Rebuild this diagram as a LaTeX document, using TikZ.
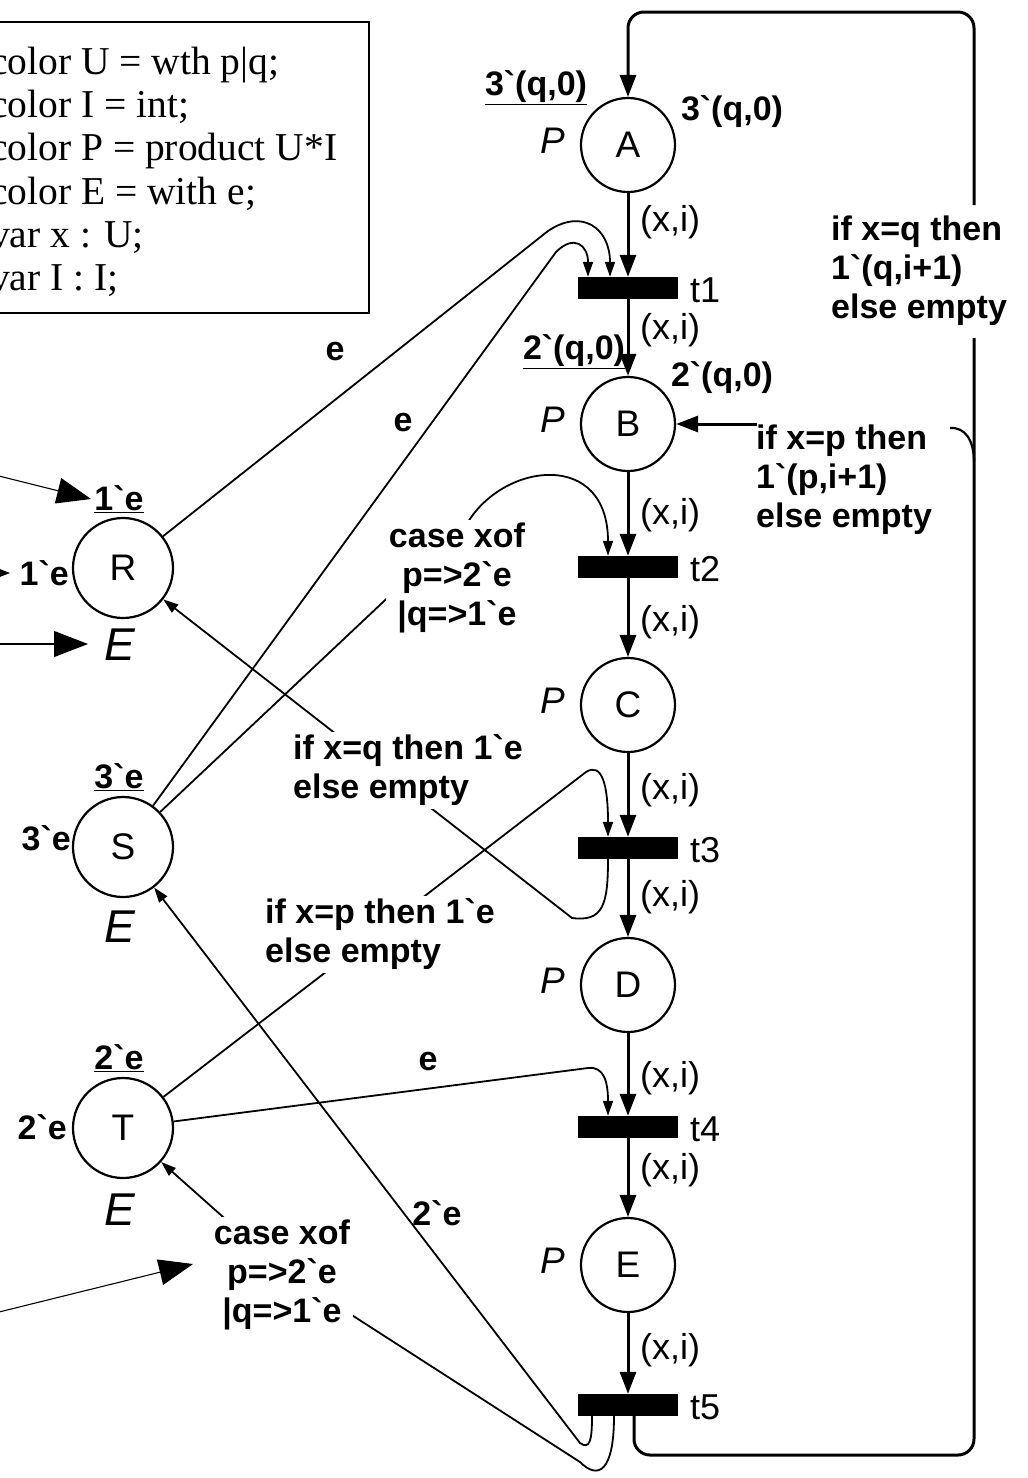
\documentclass[tikz,border=0pt]{standalone}
\usepackage{fontspec}
\newfontfamily\labf{Liberation Sans}
\newfontfamily\tmsf{Liberation Serif}
\usetikzlibrary{arrows.meta,calc}
\begin{document}
\begin{tikzpicture}[x=1pt,y=-1pt,
  place/.style={circle,draw,line width=2.2pt,minimum size=94pt,inner sep=0pt,font=\labf\fontsize{37}{40}\selectfont},
  lplace/.style={place,minimum size=100pt},
  trans/.style={rectangle,fill=black,minimum width=100pt,minimum height=22pt,inner sep=0pt},
  mainarc/.style={line width=3pt,-{Triangle[length=22pt,width=16pt]}},
  sidearc/.style={line width=1.8pt,-{Triangle[length=15pt,width=10pt]}},
  annarc/.style={line width=1.1pt,-{Triangle[length=34pt,width=26pt]}},
  reg/.style={font=\labf\fontsize{36}{40}\selectfont,inner sep=0pt},
  ptype/.style={font=\labf\itshape\fontsize{37}{40}\selectfont,inner sep=0pt},
  etype/.style={font=\labf\itshape\fontsize{46}{50}\selectfont,inner sep=0pt},
  bld/.style={font=\labf\bfseries\fontsize{34}{39}\selectfont,inner sep=1pt},
  blbox/.style={bld,fill=white,inner sep=3pt},
  decl/.style={font=\tmsf\fontsize{39.5}{43}\selectfont,anchor=base west,inner sep=0pt},
]
\useasboundingbox (0,0) rectangle (1028,1478);
\clip (0,0) rectangle (1028,1478);
\fill[white] (0,0) rectangle (1028,1478);

% declarations
\draw[line width=2pt] (-20,22) rectangle (369,313);
\node[decl] (d1) at (-10,74) {color U = wth p|q;};
\node[decl] (d2) at (-10,117) {color I = int;};
\node[decl] (d3) at (-10,160) {color P = product U*I};
\node[decl] (d4) at (-10,204) {color E = with e;};
\node[decl] (d5) at (-10,247) {var x : U;};
\node[decl] (d6) at (-10,290) {var I : I;};

% places and transitions
\node[place] (A) at (628,145) {A};
\node[place] (B) at (628,424) {B};
\node[place] (C) at (628,705) {C};
\node[place] (D) at (628,985) {D};
\node[place] (E) at (628,1265) {E};
\node[trans] (t1) at (628,288) {};
\node[trans] (t2) at (628,567) {};
\node[trans] (t3) at (628,848) {};
\node[trans] (t4) at (628,1127) {};
\node[trans] (t5) at (628,1405) {};
\node[lplace] (R) at (123,568) {R};
\node[lplace] (S) at (123,847) {S};
\node[lplace] (T) at (123,1128) {T};

\coordinate (cT) at (285,1272);
\coordinate (rt1) at (974,205);
\coordinate (rt2) at (974,338);
\coordinate (pB) at (757,424);

% main arcs
\draw[mainarc] (A) -- (t1);
\draw[mainarc] (t1) -- (B);
\draw[mainarc] (B) -- (t2);
\draw[mainarc] (t2) -- (C);
\draw[mainarc] (C) -- (t3);
\draw[mainarc] (t3) -- (D);
\draw[mainarc] (D) -- (t4);
\draw[mainarc] (t4) -- (E);
\draw[mainarc] (E) -- (t5);

% return arcs
\draw[mainarc,rounded corners=16pt] (rt1) -- (974,12) -- (628,12) -- (A);
\draw[line width=3pt,rounded corners=16pt] ([xshift=6pt]t5.south) -- (634,1455) -- (974,1455) -- (rt2);
\draw[line width=2.2pt] (950,428) .. controls (965,427) and (974,440) .. (974,462);
\draw[mainarc] (pB) -- (B);

% side arcs
\draw[sidearc] (R) -- (548,231) .. controls (582,208) and (610,228) .. ([xshift=-18pt]t1.north);
\draw[sidearc] (S) -- (556,252) .. controls (574,234) and (588,245) .. ([xshift=-40pt]t1.north);
\draw[sidearc] (S) -- (468,522) .. controls (505,462) and (608,450) .. ([xshift=-20pt]t2.north);
\draw[sidearc] ([xshift=-20pt]t3.south) .. controls (608,905) and (603,922) .. (572,918) -- (R);
\draw[sidearc] (T) -- (586,772) .. controls (602,762) and (608,785) .. ([xshift=-20pt]t3.north);
\draw[sidearc] (T) -- (588,1068) .. controls (604,1066) and (608,1082) .. ([xshift=-20pt]t4.north);
\draw[sidearc] ([xshift=-36pt]t5.south) .. controls (592,1440) and (590,1450) .. (580,1443) -- (S);
\draw[sidearc] ([xshift=-14pt]t5.south) .. controls (614,1472) and (598,1480) .. (580,1462) -- (cT) -- (T);

% annotation arrows from the left
\coordinate (a1s) at (-5,475); \coordinate (a1e) at (91,499);
\coordinate (a2s) at (-50,573); \coordinate (a2e) at (10,573);
\coordinate (a3s) at (-5,644); \coordinate (a3e) at (88,644);
\coordinate (a4s) at (-5,1313); \coordinate (a4e) at (193,1264);
\draw[annarc] (a1s) -- (a1e);
\draw[annarc] (a2s) -- (a2e);
\draw[annarc] (a3s) -- (a3e);
\draw[annarc] (a4s) -- (a4e);

% labels main column
\node[ptype] (pA) at (553,141) {P};
\node[ptype] (pBl) at (553,420) {P};
\node[ptype] (pC) at (553,701) {P};
\node[ptype] (pD) at (553,981) {P};
\node[ptype] (pE) at (553,1261) {P};
\node[reg,anchor=west] (lt1) at (690,290) {t1};
\node[reg,anchor=west] (lt2) at (690,569) {t2};
\node[reg,anchor=west] (lt3) at (690,850) {t3};
\node[reg,anchor=west] (lt4) at (690,1129) {t4};
\node[reg,anchor=west] (lt5) at (690,1407) {t5};
\node[reg,anchor=west] (x1) at (640,222) {(x,i)};
\node[reg,anchor=west] (x2) at (640,330) {(x,i)};
\node[reg,anchor=west] (x3) at (640,515) {(x,i)};
\node[reg,anchor=west] (x4) at (640,622) {(x,i)};
\node[reg,anchor=west] (x5) at (640,790) {(x,i)};
\node[reg,anchor=west] (x6) at (640,897) {(x,i)};
\node[reg,anchor=west] (x7) at (640,1078) {(x,i)};
\node[reg,anchor=west] (x8) at (640,1170) {(x,i)};
\node[reg,anchor=west] (x9) at (640,1350) {(x,i)};
\node[bld] (mA0) at (536,88) {\underline{3`(q,0)}};
\node[bld] (mA) at (732,112) {3`(q,0)};
\node[bld] (mB0) at (574,352) {\underline{2`(q,0)}};
\node[bld] (mB) at (722,378) {2`(q,0)};
\node[bld,align=left,anchor=west] (LA) at (830,271) {if x=q then\\1`(q,i+1)\\else empty};
\node[bld,align=left,anchor=west] (LB) at (755,480) {if x=p then\\1`(p,i+1)\\else empty};

% labels left places
\node[bld] (R0) at (119,499) {\underline{1`e}};
\node[bld,anchor=east] (Rm) at (70,573) {1`e};
\node[etype] (Rt) at (120,645) {E};
\node[bld] (S0) at (119,777) {\underline{3`e}};
\node[bld,anchor=east] (Sm) at (72,838) {3`e};
\node[etype] (St) at (120,927) {E};
\node[bld] (T0) at (119,1058) {\underline{2`e}};
\node[bld,anchor=east] (Tm) at (68,1127) {2`e};
\node[etype] (Tt) at (120,1210) {E};

% arc inscriptions
\node[bld] (eR) at (335,352) {e};
\node[bld] (eS) at (403,423) {e};
\node[bld] (eT) at (428,1062) {e};
\node[bld] (e5) at (437,1213) {2`e};
\node[blbox,align=center] (L2) at (457,578) {case xof\\p=>2`e\\|q=>1`e};
\node[blbox,align=left,anchor=west] (L3) at (290,770) {if x=q then 1`e\\else empty};
\node[blbox,align=left,anchor=west] (L4) at (262,934) {if x=p then 1`e\\else empty};
\node[blbox,align=center] (L5) at (282,1275) {case xof\\p=>2`e\\|q=>1`e};
\end{tikzpicture}
\end{document}
